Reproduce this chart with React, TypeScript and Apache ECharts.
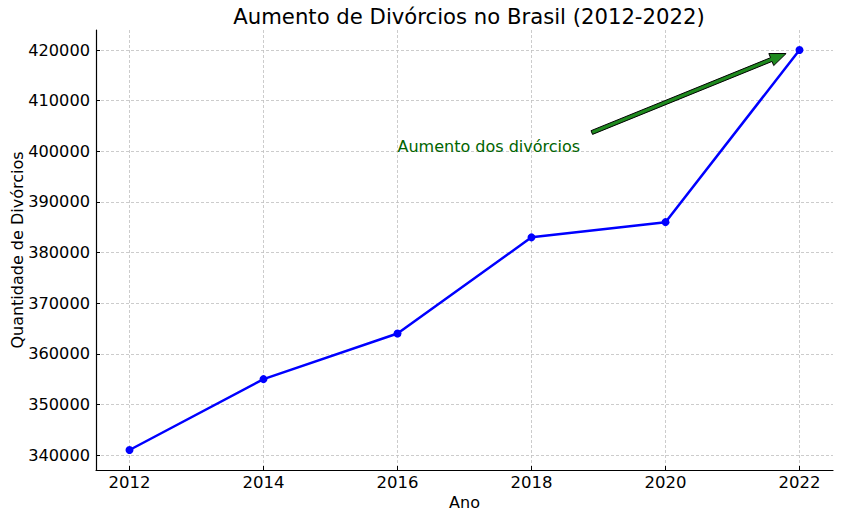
import React, { useEffect, useRef } from "react";
import * as echarts from "echarts";

const years = [2012, 2014, 2016, 2018, 2020, 2022];
const divorces = [341000, 355000, 364000, 383000, 386000, 420000];
const xTicks = [2012, 2014, 2016, 2018, 2020, 2022];
const yTicks = [340000, 350000, 360000, 370000, 380000, 390000, 400000, 410000, 420000];
const annotationText = "Aumento dos divórcios";
const annotationTextAt = [2016, 400000];
const arrowTail = [2018.9, 403700];
const arrowTip = [2021.8, 419300];

const FONT = "DejaVu Sans";

export default function App() {
  const ref = useRef<HTMLDivElement>(null);
  useEffect(() => {
    if (!ref.current) return;
    const chart = echarts.init(ref.current, null, { renderer: "svg" });
    const axisCommon = {
      axisLine: { show: true, lineStyle: { color: "#000", width: 1.2 } },
      axisTick: { show: true, inside: true, length: 4, lineStyle: { color: "#000" } },
      splitLine: { show: true, lineStyle: { color: "#bfbfbf", type: [3, 2], width: 0.8 } },
      nameTextStyle: { color: "#000", fontFamily: FONT, fontSize: 16 },
      nameMoveOverlap: false,
    };
    chart.setOption({
      animation: false,
      backgroundColor: "#fff",
      title: {
        text: "Aumento de Divórcios no Brasil (2012-2022)",
        left: 464,
        textAlign: "center",
        top: 1,
        textStyle: { color: "#000", fontFamily: FONT, fontSize: 21.2, fontWeight: "normal" },
      },
      grid: { left: 96, right: 9, top: 30, bottom: 47, containLabel: false, outerBoundsMode: "none" },
      xAxis: {
        type: "value",
        min: 2011.5,
        max: 2022.5,
        name: "Ano",
        nameLocation: "middle",
        nameGap: 24,
        ...axisCommon,
        axisTick: { ...axisCommon.axisTick, customValues: xTicks },
        axisLabel: {
          customValues: xTicks,
          color: "#000",
          fontFamily: FONT,
          fontSize: 16.5,
          margin: 4,
          formatter: (v: number) => String(v),
        },
      },
      yAxis: {
        type: "value",
        min: 337050,
        max: 423950,
        name: "Quantidade de Divórcios",
        nameLocation: "middle",
        nameGap: 71,
        ...axisCommon,
        axisTick: { ...axisCommon.axisTick, customValues: yTicks },
        axisLabel: {
          customValues: yTicks,
          color: "#000",
          fontFamily: FONT,
          fontSize: 16.2,
          margin: 6,
          formatter: (v: number) => String(v),
        },
      },
      series: [
        {
          type: "line",
          data: years.map((y, i) => [y, divorces[i]]),
          lineStyle: { color: "#0000ff", width: 2.5 },
          itemStyle: { color: "#0000ff" },
          symbol: "circle",
          symbolSize: 8,
          showSymbol: true,
        },
      ],
    });

    const tail = chart.convertToPixel({ gridIndex: 0 }, arrowTail) as number[];
    const tip = chart.convertToPixel({ gridIndex: 0 }, arrowTip) as number[];
    const tp = chart.convertToPixel({ gridIndex: 0 }, annotationTextAt) as number[];
    const dx = tip[0] - tail[0];
    const dy = tip[1] - tail[1];
    const len = Math.sqrt(dx * dx + dy * dy);
    const ux = dx / len, uy = dy / len;
    const nx = -uy, ny = ux;
    const hw = 2, hh = 6.5, hl = 16;
    const bx = tip[0] - ux * hl, by = tip[1] - uy * hl;
    const pts = [
      [tail[0] + nx * hw, tail[1] + ny * hw],
      [bx + nx * hw, by + ny * hw],
      [bx + nx * hh, by + ny * hh],
      [tip[0], tip[1]],
      [bx - nx * hh, by - ny * hh],
      [bx - nx * hw, by - ny * hw],
      [tail[0] - nx * hw, tail[1] - ny * hw],
    ];
    chart.setOption({
      graphic: [
        {
          type: "polygon",
          shape: { points: pts },
          style: { fill: "#1f8a1f", stroke: "#000", lineWidth: 1 },
          z: 100,
        },
        {
          type: "text",
          x: tp[0],
          y: tp[1] + 3,
          style: {
            text: annotationText,
            fill: "#006400",
            font: `16px "${FONT}"`,
            textAlign: "left",
            textVerticalAlign: "bottom",
          },
          z: 100,
        },
      ],
    });
    return () => chart.dispose();
  }, []);
  return <div ref={ref} style={{ width: 842, height: 517, position: "absolute", left: 0, top: 0 }} />;
}
